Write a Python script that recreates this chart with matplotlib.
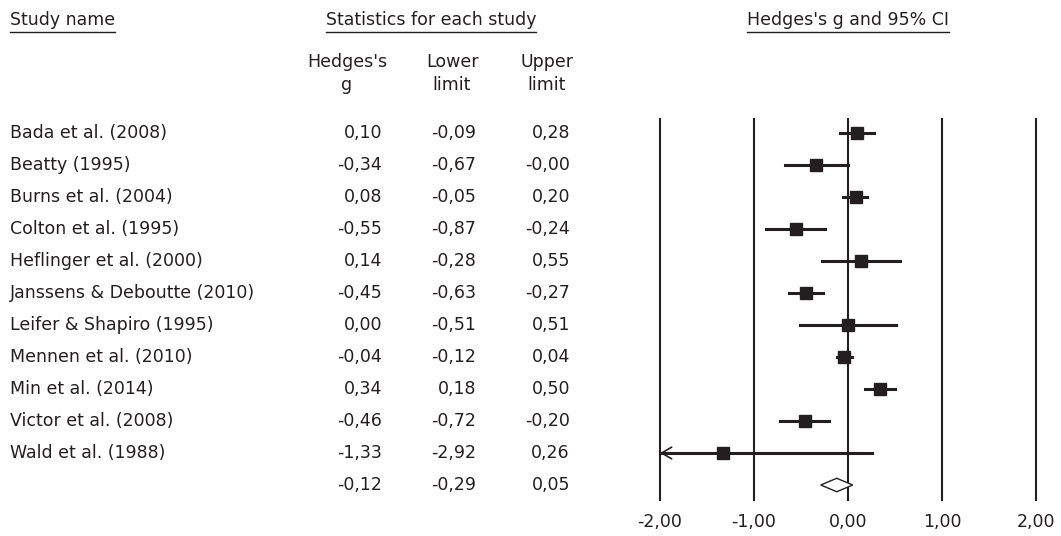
import matplotlib
matplotlib.use("Agg")
import matplotlib.pyplot as plt
from matplotlib.patches import Polygon

studies = ["Bada et al. (2008)", "Beatty (1995)", "Burns et al. (2004)",
           "Colton et al. (1995)", "Heflinger et al. (2000)",
           "Janssens & Deboutte (2010)", "Leifer & Shapiro (1995)",
           "Mennen et al. (2010)", "Min et al. (2014)", "Victor et al. (2008)",
           "Wald et al. (1988)"]
g = [0.10, -0.34, 0.08, -0.55, 0.14, -0.45, 0.00, -0.04, 0.34, -0.46, -1.33]
lower = [-0.09, -0.67, -0.05, -0.87, -0.28, -0.63, -0.51, -0.12, 0.18, -0.72, -2.92]
upper = [0.28, -0.00, 0.20, -0.24, 0.55, -0.27, 0.51, 0.04, 0.50, -0.20, 0.26]
pooled = [-0.12, -0.29, 0.05]
ticks = [-2, -1, 0, 1, 2]

W, H = 1061, 536
fig = plt.figure(figsize=(W / 100, H / 100), dpi=100)
plt.rcParams['font.family'] = ['DejaVu Sans']
fs = 12.5
ink = "#231f20"

# rows: pixel y = 133 + 32*row
ylim = ((H - 133) / 32, -133 / 32)

tab = fig.add_axes([0, 0, 600 / W, 1])
tab.set_xlim(0, 600)
tab.set_ylim(*ylim)
tab.axis("off")

ax = fig.add_axes([600 / W, 0, 461 / W, 1])
ax.set_xlim((600 - 848) / 94, (W - 848) / 94)
ax.set_ylim(*ylim)
ax.axis("off")


def fmt(v):
    return f"{v:.2f}".replace(".", ",")


# headers
h1 = tab.text(10, -3.53, "Study name", fontsize=fs, va="center", ha="left", color=ink)
h2 = tab.text(431, -3.53, "Statistics for each study", fontsize=fs, va="center", ha="center", color=ink)
h3 = ax.text(0, -3.53, "Hedges's g and 95% CI", fontsize=fs, va="center", ha="center", color=ink)
for x, t in [(347, "Hedges's\ng"), (452, "Lower\nlimit"), (547, "Upper\nlimit")]:
    tab.text(x, -1.86, t, fontsize=fs, va="center", ha="center", linespacing=1.4, color=ink)

# table rows
cols = [382, 476, 570]
for i, name in enumerate(studies):
    tab.text(10, i, name, fontsize=fs, va="center", ha="left", color=ink)
    for x, v in zip(cols, [g[i], lower[i], upper[i]]):
        tab.text(x, i, fmt(v), fontsize=fs, va="center", ha="right", color=ink)
n = len(studies)
for x, v in zip(cols, pooled):
    tab.text(x, n, fmt(v), fontsize=fs, va="center", ha="right", color=ink)

# reference lines
for t in ticks:
    ax.plot([t, t], [-0.44, 11.47], color=ink, lw=1.5, zorder=1)
    ax.text(t, 12.16, fmt(t), fontsize=fs, ha="center", va="center", color=ink)

# study CIs
xmin = ticks[0]
for i in range(n):
    lo = max(lower[i], xmin)
    ax.plot([lo, upper[i]], [i, i], color=ink, lw=2.2, zorder=2)
    if lower[i] < xmin:
        ax.annotate("", xy=(lo, i), xytext=(lo + 0.3, i),
                    arrowprops=dict(arrowstyle="->,head_length=0.6,head_width=0.35",
                                    lw=1.2, color=ink, shrinkA=0, shrinkB=0,
                                    mutation_scale=12))
    ax.plot(g[i], i, marker="s", ms=9, color=ink, zorder=3)

# pooled diamond
d = Polygon([(pooled[1], n), (pooled[0], n - 0.21), (pooled[2], n), (pooled[0], n + 0.21)],
            closed=True, facecolor="white", edgecolor=ink, lw=1, zorder=3)
ax.add_patch(d)

# underline headers
fig.canvas.draw()
r = fig.canvas.get_renderer()
for h in [h1, h2, h3]:
    bb = h.get_window_extent(r)
    y = bb.y0 - 3
    fig.add_artist(plt.Line2D([bb.x0 / W, bb.x1 / W], [y / H, y / H],
                              color=ink, lw=1))

fig.savefig("out.png", dpi=100)
